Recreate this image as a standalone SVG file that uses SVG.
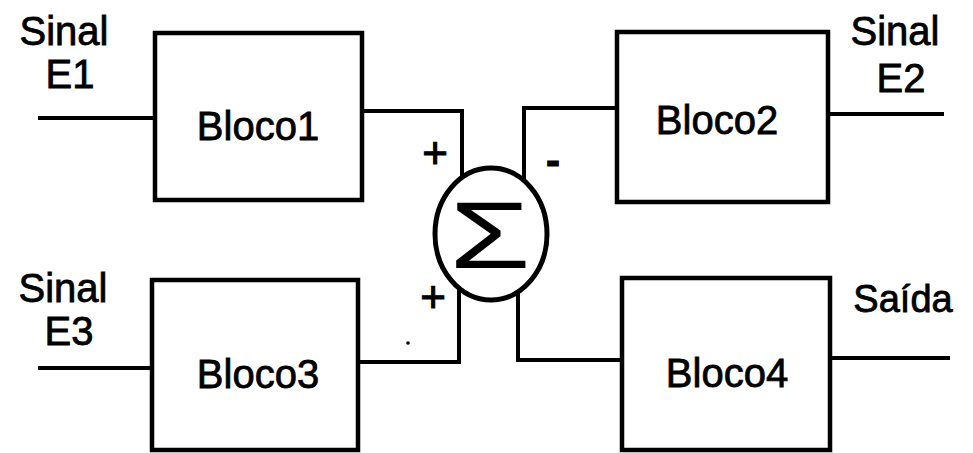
<svg xmlns="http://www.w3.org/2000/svg" width="973" height="453" viewBox="0 0 973 453">
<style>
.box{fill:#fff;stroke:#000;stroke-width:4.5}
.ln{fill:none;stroke:#000;stroke-width:4;stroke-linejoin:miter;stroke-linecap:square}
.t{font-family:"Liberation Sans",Arial,sans-serif;font-size:40px;fill:#000;stroke:#000;stroke-width:0.8;text-anchor:middle}
.s{font-family:"Liberation Sans",Arial,sans-serif;fill:#000;stroke:#000;stroke-width:1;text-anchor:middle}
</style>
<rect width="973" height="453" fill="#fff"/>
<g id="connectors">
<path class="ln" d="M40,118 H155"/>
<path class="ln" d="M362,111 H462 V177"/>
<path class="ln" d="M524,180 V108 H617"/>
<path class="ln" d="M828,114 H942"/>
<path class="ln" d="M40,368 H152"/>
<path class="ln" d="M358,362 H459 V289"/>
<path class="ln" d="M518,291 V360 H622"/>
<path class="ln" d="M830,358 H948"/>
</g>
<g id="bloco1"><rect class="box" x="155" y="33" width="207" height="167"/><text class="t" x="258" y="140">Bloco1</text></g>
<g id="bloco2"><rect class="box" x="617" y="32" width="211" height="170"/><text class="t" x="717" y="134">Bloco2</text></g>
<g id="bloco3"><rect class="box" x="152" y="280" width="206" height="170"/><text class="t" x="258" y="388">Bloco3</text></g>
<g id="bloco4"><rect class="box" x="622" y="278" width="208" height="172"/><text class="t" x="727" y="387">Bloco4</text></g>
<g id="soma">
<ellipse cx="491" cy="234" rx="56" ry="66" fill="#fff" stroke="#000" stroke-width="5"/>
<text transform="translate(490,268) scale(1.4,1)" x="0" y="0" style="font-family:'Liberation Sans',Arial,sans-serif;font-size:94px;text-anchor:middle;fill:#000">Σ</text>
</g>
<g id="labels">
<text class="t" x="64" y="45">Sinal</text>
<text class="t" x="70" y="88">E1</text>
<text class="t" x="63" y="302">Sinal</text>
<text class="t" x="69" y="345">E3</text>
<text class="t" x="895" y="45">Sinal</text>
<text class="t" x="901" y="92">E2</text>
<text class="t" x="903" y="312" style="font-size:38px">Saída</text>
<text class="s" x="435" y="168" style="font-size:44px">+</text>
<text class="s" x="433" y="312" style="font-size:44px">+</text>
<text class="s" x="553" y="175" style="font-size:42px;font-weight:bold">-</text>
<circle cx="408" cy="343" r="1.8" fill="#000"/>
</g>
</svg>
